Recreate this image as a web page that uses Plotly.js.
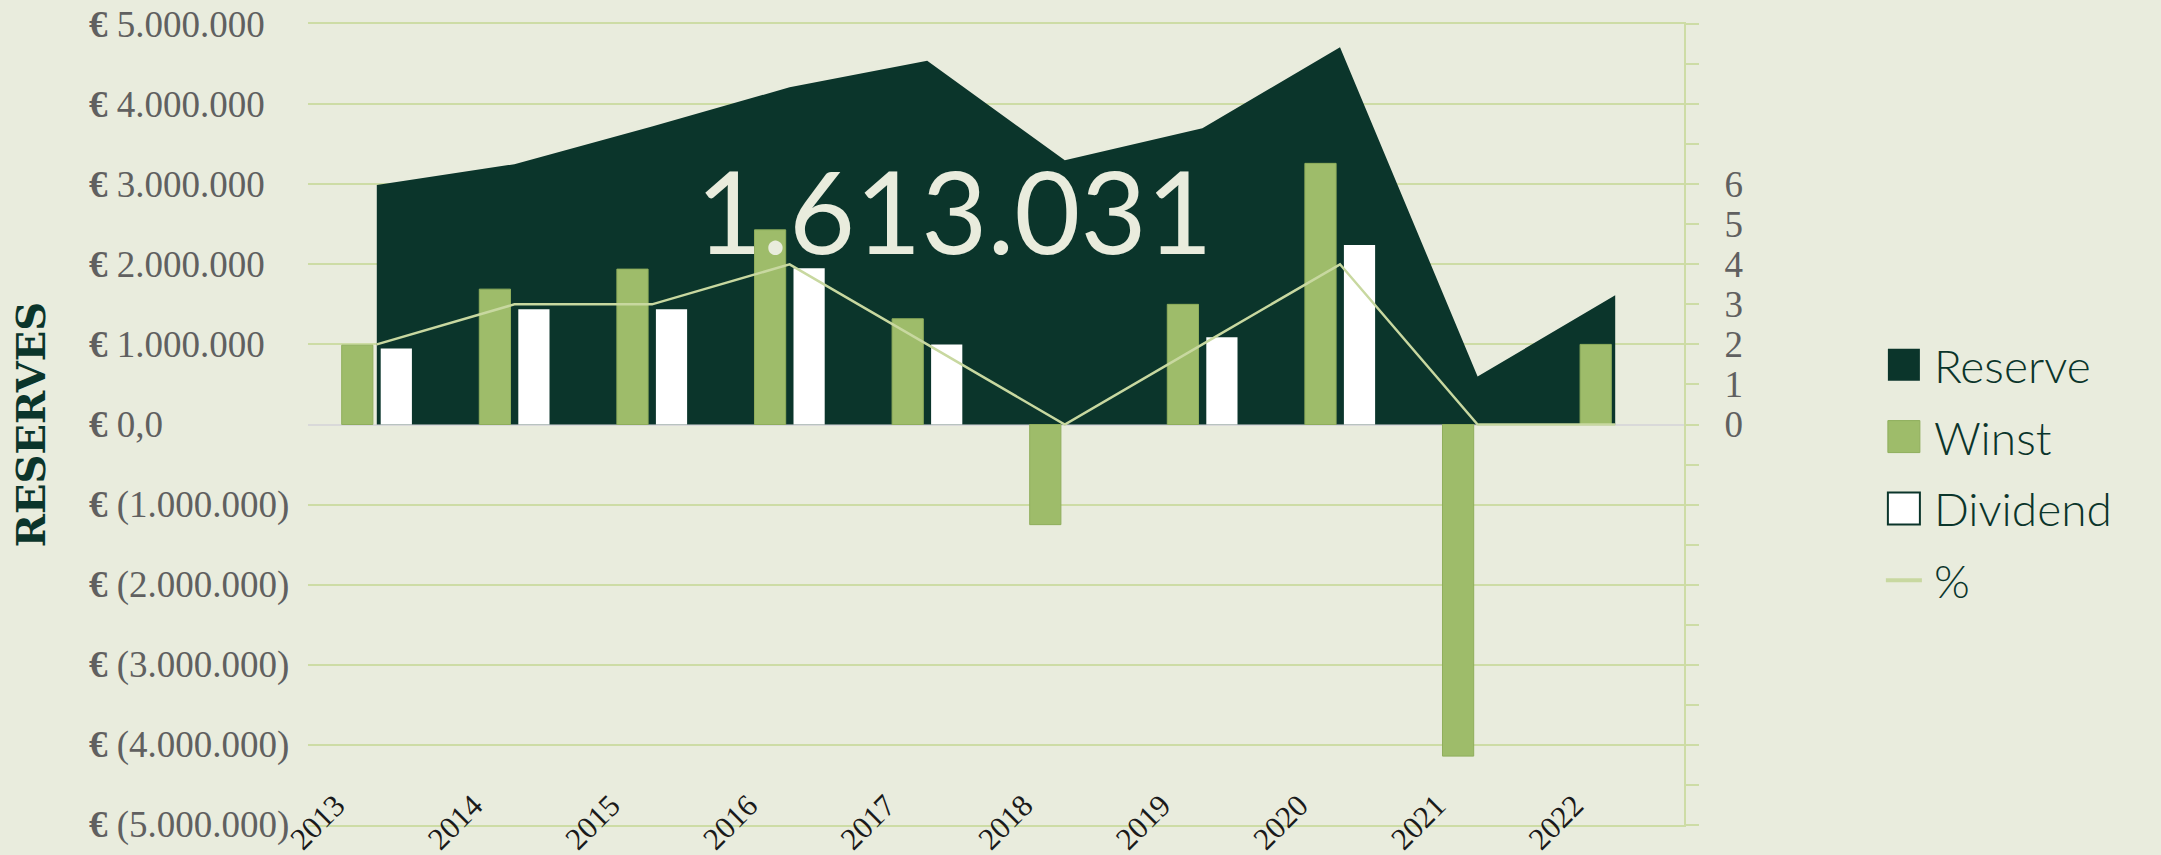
<!DOCTYPE html>
<html>
<head>
<meta charset="utf-8">
<script src="https://cdn.plot.ly/plotly-3.0.1.min.js"></script>
<style>
html,body{margin:0;padding:0;background:#e9ecdd;}
#chart{width:2161px;height:855px;}
</style>
</head>
<body>
<div id="chart"></div>
<script>
// ---- data ----
const years = ['2013','2014','2015','2016','2017','2018','2019','2020','2021','2022'];
const reserve = [2990000, 3250000, 3720000, 4210000, 4540000, 3300000, 3700000, 4710000, 600000, 1613031];
const winst = [990000, 1690000, 1940000, 2430000, 1320000, -1250000, 1500000, 3260000, -4140000, 1000000];
const dividend = [950000, 1440000, 1440000, 1950000, 1000000, 0, 1090000, 2240000, 0, 0];
const pct = [2, 3, 3, 4, 2, 0, 2, 4, 0, 0];
const yTickVals = [5000000, 4000000, 3000000, 2000000, 1000000, 0, -1000000, -2000000, -3000000, -4000000, -5000000];
const yTickText = ['5.000.000','4.000.000','3.000.000','2.000.000','1.000.000','0,0','(1.000.000)','(2.000.000)','(3.000.000)','(4.000.000)','(5.000.000)'];
const y2TickVals = [-10,-9,-8,-7,-6,-5,-4,-3,-2,-1,0,1,2,3,4,5,6,7,8,9,10];
const y2TickText = ['','','','','','','','','','','0','1','2','3','4','5','6','','','',''];
const highlightLabel = '1.613.031';

// ---- style ----
const C_BG = '#e9ecdd';
const C_DARK = '#0b352b';
const C_GREEN = '#9ebc6a';
const C_LINE = '#c8d8a0';
const C_GRID = '#cddca5';
const C_TICK = '#606060';

const data = [
  {
    type: 'scatter', name: 'Reserve', x: years, y: reserve,
    mode: 'lines', line: {width: 0, color: C_DARK}, fill: 'tozeroy', fillcolor: C_DARK,
    xaxis: 'x', yaxis: 'y', legendgroup: 'a', hoverinfo: 'skip'
  },
  {
    type: 'bar', name: 'Winst', x: years, y: winst,
    marker: {color: C_GREEN, line: {color: '#8fae5c', width: 1}},
    xaxis: 'x', yaxis: 'y2', legendgroup: 'b'
  },
  {
    type: 'bar', name: 'Dividend', x: years, y: dividend,
    marker: {color: '#ffffff', line: {width: 0}},
    xaxis: 'x', yaxis: 'y2', legendgroup: 'c'
  },
  {
    type: 'scatter', name: '%', x: years, y: pct,
    mode: 'lines', line: {color: C_LINE, width: 2.5},
    xaxis: 'x', yaxis: 'y3', legendgroup: 'd'
  }
];

const annotations = yTickVals.map((v, i) => ({
  xref: 'paper', yref: 'y', x: -0.1606, y: v, xanchor: 'left', yanchor: 'middle',
  text: '<b>€</b> ' + yTickText[i], showarrow: false,
  font: {family: 'Liberation Serif', size: 37, color: C_TICK}
}));
annotations.push({
  xref: 'paper', yref: 'paper', x: 0.4695, y: 0.768, xanchor: 'center', yanchor: 'middle',
  text: highlightLabel, showarrow: false,
  font: {family: 'Lato', size: 114, color: C_BG}
});

const layout = {
  width: 2161, height: 855,
  paper_bgcolor: C_BG, plot_bgcolor: 'rgba(0,0,0,0)',
  margin: {l: 308, r: 477, t: 24, b: 30, pad: 0},
  barmode: 'group', bargap: 0.433, bargroupgap: 0.2,
  showlegend: true,
  legend: {
    x: 1.138, xanchor: 'left', y: 0.62, yanchor: 'top',
    font: {family: 'Lato', size: 46, color: C_DARK, weight: 300},
    itemwidth: 50, tracegroupgap: 9, bgcolor: 'rgba(0,0,0,0)', traceorder: 'grouped'
  },
  xaxis: {
    type: 'category', range: [-0.5, 9.5], showline: true, mirror: true,
    linecolor: C_GRID, linewidth: 2, showgrid: false, zeroline: false, ticks: '',
    tickangle: -45, tickfont: {family: 'Liberation Serif', size: 31, color: '#1a1a1a'},
    ticklabelshift: -41, ticklabelstandoff: -52, fixedrange: true
  },
  yaxis: {
    range: [-5000000, 5000000], tickvals: yTickVals, showticklabels: false,
    showgrid: true, gridcolor: C_GRID, gridwidth: 2,
    zeroline: true, zerolinecolor: '#d9d9d9', zerolinewidth: 2,
    ticks: '', showline: false, automargin: false, fixedrange: true,
    title: {text: 'RESERVES', standoff: 249, font: {family: 'DejaVu Serif', size: 40, color: C_DARK, weight: 'bold'}}
  },
  yaxis2: {overlaying: 'y', range: [-5000000, 5000000], visible: false, fixedrange: true},
  yaxis3: {
    overlaying: 'y', side: 'right', range: [-10, 10],
    tickvals: y2TickVals, ticktext: y2TickText,
    ticks: 'outside', ticklen: 13, tickwidth: 2, tickcolor: C_GRID,
    showline: true, linecolor: C_GRID, linewidth: 2, showgrid: false, zeroline: false,
    tickfont: {family: 'Liberation Serif', size: 37, color: C_TICK},
    ticklabelstandoff: 18, automargin: false, fixedrange: true
  },
  annotations: annotations
};

Plotly.newPlot('chart', data, layout, {displayModeBar: false}).then(gd => {
  gd.querySelectorAll('.legend .traces').forEach(g => {
    const d = g.__data__;
    const tr = d && d[0] && d[0].trace;
    if (!tr) return;
    if (tr.type === 'bar') {
      g.querySelectorAll('.legendpoints path').forEach(p => {
        p.setAttribute('d', 'M16,16H-16V-16H16Z');
        if (tr.name === 'Dividend') { p.style.stroke = C_DARK; p.style.strokeWidth = '2px'; }
      });
    } else if (tr.fill && tr.fill !== 'none') {
      g.querySelectorAll('.legendfill path').forEach(p => p.setAttribute('d', 'M14,16V-16H46V16Z'));
      g.querySelectorAll('.legendlines path').forEach(p => { p.style.display = 'none'; });
    } else {
      g.querySelectorAll('.legendlines path').forEach(p => { p.setAttribute('d', 'M12,0h36'); p.style.strokeWidth = '4px'; });
    }
  });
});
</script>
</body>
</html>
